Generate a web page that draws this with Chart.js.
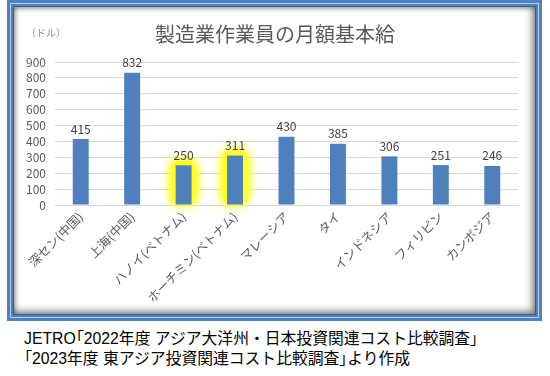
<!DOCTYPE html>
<html><head><meta charset="utf-8">
<script src="https://cdn.jsdelivr.net/npm/chart.js@4/dist/chart.umd.min.js"></script>
<style>
html,body{margin:0;padding:0;background:#fff;width:550px;height:376px;overflow:hidden;font-family:"Noto Sans CJK JP",sans-serif;}
#frame{position:absolute;left:7px;top:0px;width:535px;height:321px;background:#4f81bd;}
#frame .line{position:absolute;left:3px;top:3px;right:3px;bottom:3px;border:1px solid #b5cdea;}
#frame .inner{position:absolute;left:6px;top:6px;right:6px;bottom:6px;background:#fff;box-shadow:inset -2px -2px 7px 1px rgba(0,0,0,0.45), inset 1px 1px 5px rgba(0,0,0,0.3);border:1px solid #2f5f9a;}
#c{position:absolute;left:0;top:0;}
#cap{position:absolute;left:24px;top:329px;font-family:"Liberation Sans","Noto Sans CJK JP",sans-serif;font-size:15.8px;line-height:20px;color:#000;white-space:nowrap;}
#cap .p{font-feature-settings:"palt";}
</style></head>
<body>
<div id="frame"><div class="line"></div><div class="inner"></div></div>
<canvas id="c" width="550" height="320"></canvas>
<div id="cap">JETRO<span class="p">「</span>2022年度 アジア大洋州・日本投資関連コスト比較調査<span class="p">」</span><br><span class="p">「</span>2023年度 東アジア投資関連コスト比較調査<span class="p">」</span>より作成</div>
<script>
const categories = ["深セン(中国)","上海(中国)","ハノイ(ベトナム)","ホーチミン(ベトナム)","マレーシア","タイ","インドネシア","フィリピン","カンボジア"];
const wages = [415, 832, 250, 311, 430, 385, 306, 251, 246];
const highlighted = ["ハノイ(ベトナム)","ホーチミン(ベトナム)"];
const titleText = "製造業作業員の月額基本給";
const unitText = "（ドル）";

const FONT = '"Noto Sans CJK JP", "Noto Sans", sans-serif';

const glowPlugin = {
  id: 'glow',
  beforeDatasetsDraw(chart) {
    const ctx = chart.ctx;
    const meta = chart.getDatasetMeta(0);
    meta.data.forEach((el, i) => {
      if (!highlighted.includes(categories[i])) return;
      const w = el.width;
      ctx.save();
      ctx.shadowColor = 'rgba(255,255,0,1)';
      ctx.shadowBlur = 11;
      ctx.fillStyle = '#ffff20';
      for (let k = 0; k < 2; k++) {
        ctx.beginPath();
        const x0 = el.x - w/2 - 4, y0 = el.y - 4, ww = w + 8, hh = el.base - el.y + 3;
        ctx.roundRect(x0, y0, ww, hh, 6);
        ctx.fill();
      }
      ctx.restore();
    });
  }
};

const labelPlugin = {
  id: 'labels',
  afterDatasetsDraw(chart) {
    const ctx = chart.ctx;
    const meta = chart.getDatasetMeta(0);
    ctx.save();
    ctx.font = '12px ' + FONT;
    ctx.fillStyle = '#404040';
    ctx.textAlign = 'center';
    ctx.textBaseline = 'bottom';
    meta.data.forEach((el, i) => {
      ctx.fillText(String(wages[i]), el.x, el.y - 4);
    });
    ctx.restore();
  },
  afterDraw(chart) {
    const ctx = chart.ctx;
    ctx.save();
    ctx.textBaseline = 'middle';
    ctx.font = '20px ' + FONT;
    ctx.fillStyle = '#595959';
    ctx.textAlign = 'center';
    ctx.fillText(titleText, 275, 34);
    ctx.font = '10px ' + FONT;
    ctx.fillStyle = '#8497b0';
    ctx.textAlign = 'left';
    ctx.fillText(unitText, 26, 33);
    ctx.restore();
  }
};

new Chart(document.getElementById('c'), {
  type: 'bar',
  data: {
    labels: categories,
    datasets: [{
      data: wages,
      backgroundColor: '#4e80bd',
      borderWidth: 0,
      categoryPercentage: 1,
      barPercentage: 0.31
    }]
  },
  options: {
    responsive: false,
    animation: false,
    devicePixelRatio: 1,
    layout: { padding: { left: 22, right: 32, top: 62, bottom: 15 } },
    plugins: { legend: { display: false }, title: { display: false }, tooltip: { enabled: false } },
    scales: {
      y: {
        min: 0, max: 900,
        ticks: { stepSize: 100, autoSkip: false, color: '#595959', font: { size: 12, family: FONT }, padding: 9 },
        grid: { color: '#d9d9d9', drawTicks: false, lineWidth: 1 },
        border: { display: false },
        afterFit(s) { s.width = 33; }
      },
      x: {
        ticks: { minRotation: 45, maxRotation: 45, color: '#595959', font: { size: 12.5, family: FONT }, padding: 4, autoSkip: false },
        grid: { display: false, drawTicks: false },
        border: { display: true, color: '#d9d9d9' },
        afterFit(s) { s.height = 100; }
      }
    }
  },
  plugins: [glowPlugin, labelPlugin]
});
</script>
</body></html>
